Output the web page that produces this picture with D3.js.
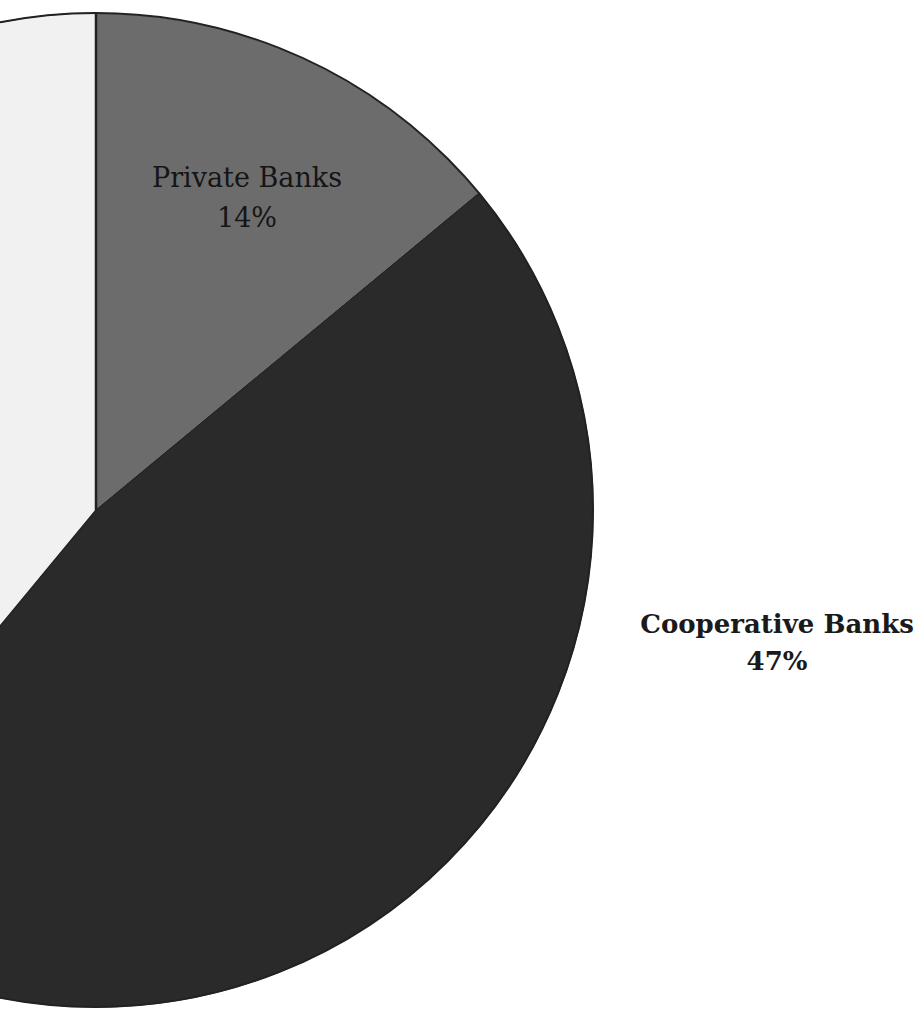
<!DOCTYPE html>
<html><head><meta charset="utf-8">
<script src="https://cdn.jsdelivr.net/npm/d3@7"></script>
<style>body{margin:0;background:#fff}</style>
</head><body>
<svg id="c" width="921" height="1010"></svg>
<script>
const categories = ["Private Banks", "Cooperative Banks", "Other Banks"];
const values = [14, 47, 39];
const colors = ["#6c6c6c", "#2a2a2a", "#f1f1f1"];
const showLabel = [true, true, false];

const svg = d3.select("#c");
const cx = 96, cy = 510, r = 497;
const pie = d3.pie().sort(null).value(d => d.v);
const arcs = pie(categories.map((c, i) => ({c, v: values[i], i})));
const arc = d3.arc().innerRadius(0).outerRadius(r);
const g = svg.append("g").attr("transform", `translate(${cx},${cy})`);
g.selectAll("path").data(arcs).join("path")
  .attr("d", arc)
  .attr("fill", d => colors[d.data.i])
  .attr("stroke", d => d.data.i === 0 ? "#e8e8e8" : "#222")
  .attr("stroke-width", 1.2);
g.append("circle").attr("r", r).attr("fill", "none").attr("stroke", "#222").attr("stroke-width", 2);
g.append("line").attr("x1", 0).attr("y1", 0).attr("x2", 0).attr("y2", -r).attr("stroke", "#222").attr("stroke-width", 2.5);

const labelPos = [
  {x: 247, y: 187, size: 27, weight: "normal", fill: "#151515", gap: 40},
  {x: 777, y: 633, size: 26, weight: "bold", fill: "#1a1a1a", gap: 37}
];
arcs.forEach((a, k) => {
  if (!showLabel[k]) return;
  const p = labelPos[k];
  const t = svg.append("text").attr("text-anchor", "middle")
    .attr("font-family", "'DejaVu Serif', 'Liberation Serif', serif")
    .attr("font-size", p.size).attr("font-weight", p.weight).attr("fill", p.fill);
  t.append("tspan").attr("x", p.x).attr("y", p.y).text(categories[k]);
  t.append("tspan").attr("x", p.x).attr("y", p.y + p.gap).text(values[k] + "%");
});
</script>
</body></html>
